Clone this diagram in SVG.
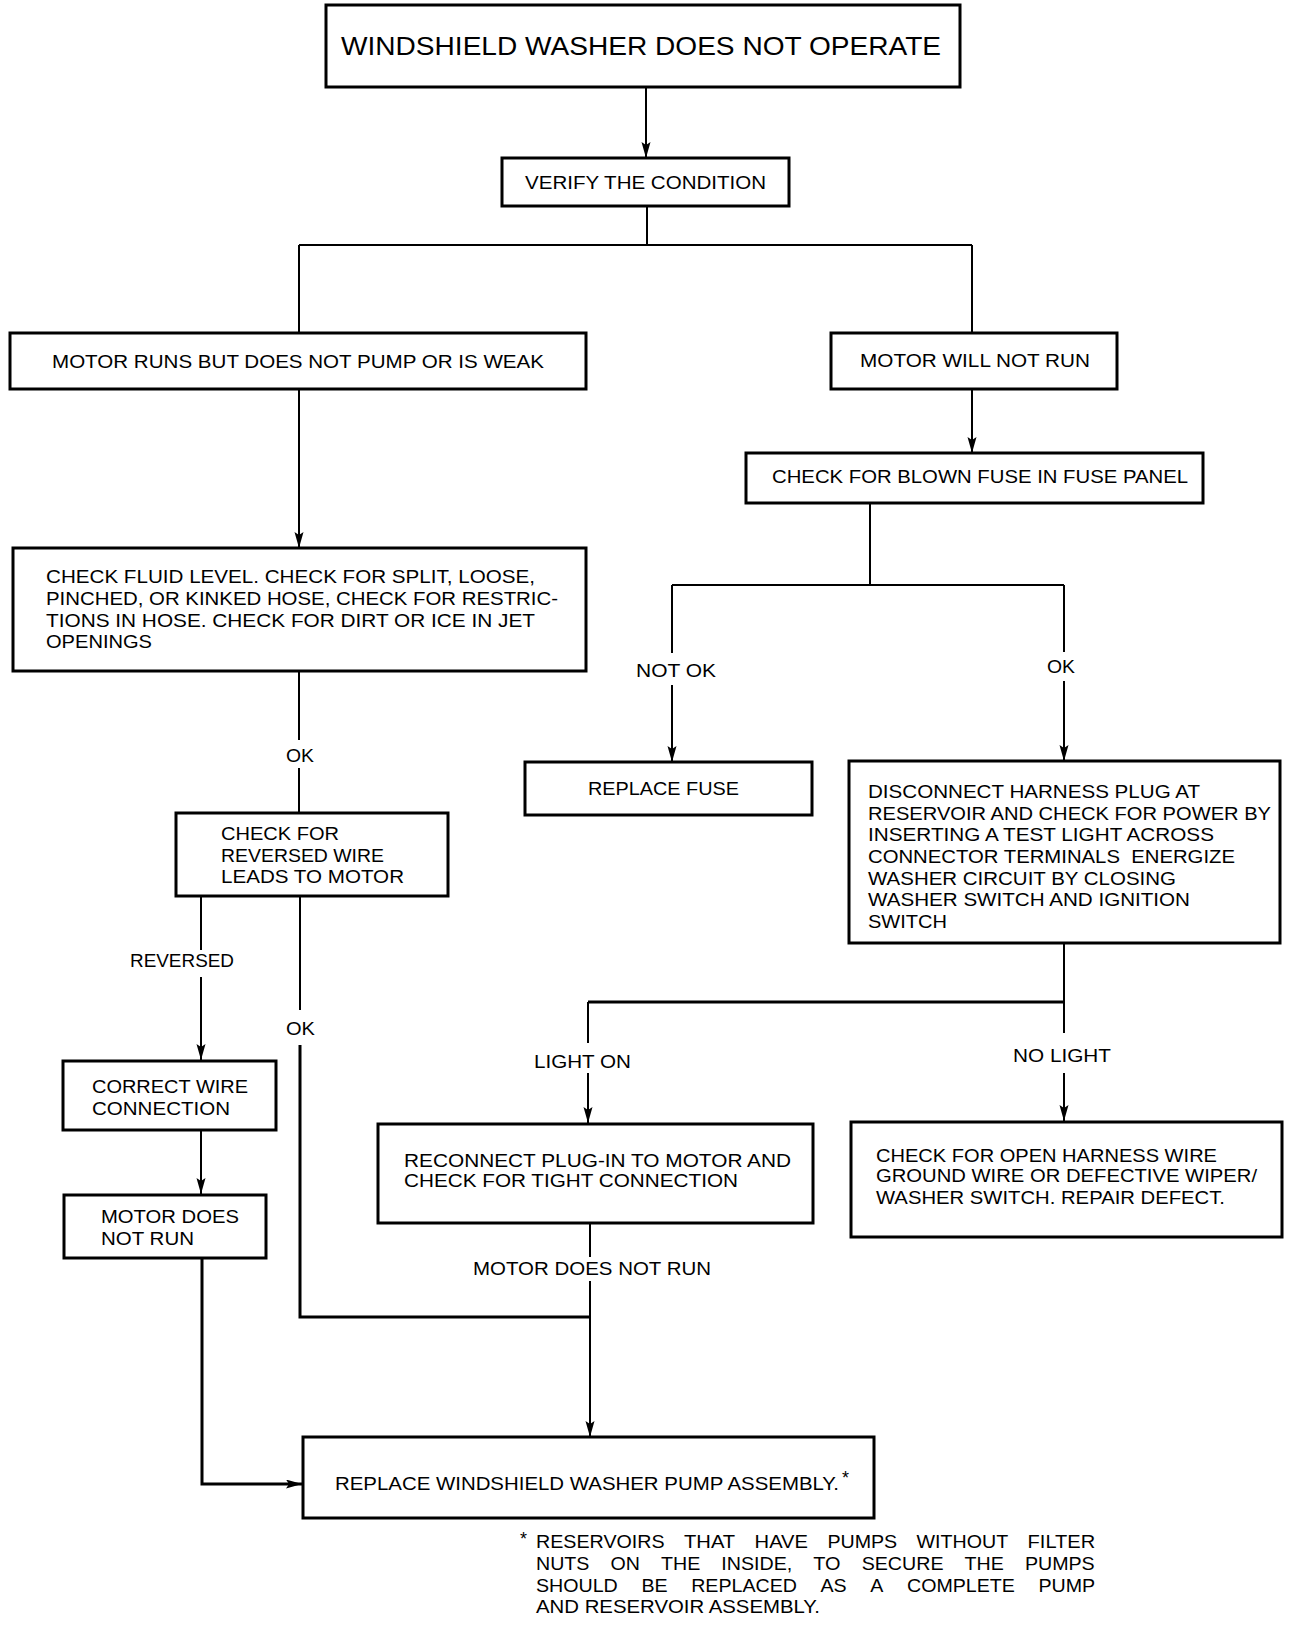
<svg xmlns="http://www.w3.org/2000/svg" width="1312" height="1632" viewBox="0 0 1312 1632">
<defs>
<style>
.box{fill:#fff;stroke:#000;stroke-width:3}
.t{font-family:"Liberation Sans",Arial,sans-serif;font-size:18px;fill:#000}
.big{font-size:25px}
.c{fill:none;stroke:#000;stroke-width:2}
.thick{stroke-width:3}
</style>
<marker id="ah" markerUnits="userSpaceOnUse" markerWidth="18" markerHeight="10" refX="16" refY="4.5" orient="auto">
<path d="M0,0 L16,4.5 L0,9 L3,4.5 z" fill="#000"/>
</marker>
</defs>
<rect width="1312" height="1632" fill="#fff"/>

<g id="connectors">
<path class="c" d="M646,87 V158" marker-end="url(#ah)"/>
<path class="c" d="M647,206 V245 M299,245 H972 M299,245 V333 M972,245 V333"/>
<path class="c" d="M299,389 V548" marker-end="url(#ah)"/>
<path class="c" d="M972,389 V453" marker-end="url(#ah)"/>
<path class="c" d="M870,503 V585 M672,585 H1064 M672,585 V653 M1064,585 V652"/>
<path class="c" d="M672,685 V762" marker-end="url(#ah)"/>
<path class="c" d="M1064,681 V761" marker-end="url(#ah)"/>
<path class="c" d="M299,671 V740 M299,768 V813"/>
<path class="c" d="M201,896 V950"/>
<path class="c" d="M201,977 V1060" marker-end="url(#ah)"/>
<path class="c" d="M300,896 V1010"/>
<path class="c thick" d="M300,1045 V1317 H590"/>
<path class="c" d="M1064,943 V1033"/>
<path class="c thick" d="M588,1002 H1064"/>
<path class="c" d="M588,1002 V1043"/>
<path class="c" d="M588,1073 V1123" marker-end="url(#ah)"/>
<path class="c" d="M1064,1073 V1121" marker-end="url(#ah)"/>
<path class="c" d="M201,1130 V1194" marker-end="url(#ah)"/>
<path class="c thick" d="M202,1258 V1484 H302" marker-end="url(#ah)"/>
<path class="c" d="M590,1223 V1257"/>
<path class="c" d="M590,1281 V1437" marker-end="url(#ah)"/>
<text class="t" x="286" y="762" textLength="28" lengthAdjust="spacingAndGlyphs">OK</text>
<text class="t" x="130" y="967" textLength="104" lengthAdjust="spacingAndGlyphs">REVERSED</text>
<text class="t" x="286" y="1035" textLength="29" lengthAdjust="spacingAndGlyphs">OK</text>
<text class="t" x="636" y="677" textLength="80" lengthAdjust="spacingAndGlyphs">NOT OK</text>
<text class="t" x="1047" y="673" textLength="28" lengthAdjust="spacingAndGlyphs">OK</text>
<text class="t" x="534" y="1068" textLength="97" lengthAdjust="spacingAndGlyphs">LIGHT ON</text>
<text class="t" x="1013" y="1062" textLength="98" lengthAdjust="spacingAndGlyphs">NO LIGHT</text>
<text class="t" x="473" y="1275" textLength="238" lengthAdjust="spacingAndGlyphs">MOTOR DOES NOT RUN</text>
</g>

<g id="n-title">
<rect class="box" x="326" y="5" width="634" height="82"/>
<text class="t big" x="341" y="55" textLength="600" lengthAdjust="spacingAndGlyphs">WINDSHIELD WASHER DOES NOT OPERATE</text>
</g>
<g id="n-verify">
<rect class="box" x="502" y="158" width="287" height="48"/>
<text class="t" x="525" y="189" textLength="241" lengthAdjust="spacingAndGlyphs">VERIFY THE CONDITION</text>
</g>
<g id="n-motor-runs">
<rect class="box" x="10" y="333" width="576" height="56"/>
<text class="t" x="52" y="368" textLength="492" lengthAdjust="spacingAndGlyphs">MOTOR RUNS BUT DOES NOT PUMP OR IS WEAK</text>
</g>
<g id="n-motor-will-not-run">
<rect class="box" x="831" y="333" width="286" height="56"/>
<text class="t" x="860" y="367" textLength="230" lengthAdjust="spacingAndGlyphs">MOTOR WILL NOT RUN</text>
</g>
<g id="n-fuse">
<rect class="box" x="746" y="453" width="457" height="50"/>
<text class="t" x="772" y="483" textLength="416" lengthAdjust="spacingAndGlyphs">CHECK FOR BLOWN FUSE IN FUSE PANEL</text>
</g>
<g id="n-fluid">
<rect class="box" x="13" y="548" width="573" height="123"/>
<text class="t" x="46" y="583" textLength="489" lengthAdjust="spacingAndGlyphs">CHECK FLUID LEVEL. CHECK FOR SPLIT, LOOSE,</text>
<text class="t" x="46" y="605" textLength="512" lengthAdjust="spacingAndGlyphs">PINCHED, OR KINKED HOSE, CHECK FOR RESTRIC-</text>
<text class="t" x="46" y="627" textLength="489" lengthAdjust="spacingAndGlyphs">TIONS IN HOSE. CHECK FOR DIRT OR ICE IN JET</text>
<text class="t" x="46" y="648" textLength="106" lengthAdjust="spacingAndGlyphs">OPENINGS</text>
</g>
<g id="n-replace-fuse">
<rect class="box" x="525" y="762" width="287" height="53"/>
<text class="t" x="588" y="795" textLength="151" lengthAdjust="spacingAndGlyphs">REPLACE FUSE</text>
</g>
<g id="n-disconnect">
<rect class="box" x="849" y="761" width="431" height="182"/>
<text class="t" x="868" y="798" textLength="332" lengthAdjust="spacingAndGlyphs">DISCONNECT HARNESS PLUG AT</text>
<text class="t" x="868" y="820" textLength="403" lengthAdjust="spacingAndGlyphs">RESERVOIR AND CHECK FOR POWER BY</text>
<text class="t" x="868" y="841" textLength="346" lengthAdjust="spacingAndGlyphs">INSERTING A TEST LIGHT ACROSS</text>
<text class="t" x="868" y="863" textLength="367" lengthAdjust="spacingAndGlyphs" xml:space="preserve">CONNECTOR TERMINALS  ENERGIZE</text>
<text class="t" x="868" y="885" textLength="308" lengthAdjust="spacingAndGlyphs">WASHER CIRCUIT BY CLOSING</text>
<text class="t" x="868" y="906" textLength="322" lengthAdjust="spacingAndGlyphs">WASHER SWITCH AND IGNITION</text>
<text class="t" x="868" y="928" textLength="79" lengthAdjust="spacingAndGlyphs">SWITCH</text>
</g>
<g id="n-reversed">
<rect class="box" x="176" y="813" width="272" height="83"/>
<text class="t" x="221" y="840" textLength="118" lengthAdjust="spacingAndGlyphs">CHECK FOR</text>
<text class="t" x="221" y="862" textLength="163" lengthAdjust="spacingAndGlyphs">REVERSED WIRE</text>
<text class="t" x="221" y="883" textLength="183" lengthAdjust="spacingAndGlyphs">LEADS TO MOTOR</text>
</g>
<g id="n-correct-wire">
<rect class="box" x="63" y="1061" width="213" height="69"/>
<text class="t" x="92" y="1093" textLength="156" lengthAdjust="spacingAndGlyphs">CORRECT WIRE</text>
<text class="t" x="92" y="1115" textLength="138" lengthAdjust="spacingAndGlyphs">CONNECTION</text>
</g>
<g id="n-motor-does-not-run">
<rect class="box" x="64" y="1195" width="202" height="63"/>
<text class="t" x="101" y="1223" textLength="138" lengthAdjust="spacingAndGlyphs">MOTOR DOES</text>
<text class="t" x="101" y="1245" textLength="93" lengthAdjust="spacingAndGlyphs">NOT RUN</text>
</g>
<g id="n-reconnect">
<rect class="box" x="378" y="1124" width="435" height="99"/>
<text class="t" x="404" y="1167" textLength="387" lengthAdjust="spacingAndGlyphs">RECONNECT PLUG-IN TO MOTOR AND</text>
<text class="t" x="404" y="1187" textLength="334" lengthAdjust="spacingAndGlyphs">CHECK FOR TIGHT CONNECTION</text>
</g>
<g id="n-open-harness">
<rect class="box" x="851" y="1122" width="431" height="115"/>
<text class="t" x="876" y="1162" textLength="341" lengthAdjust="spacingAndGlyphs">CHECK FOR OPEN HARNESS WIRE</text>
<text class="t" x="876" y="1182" textLength="381" lengthAdjust="spacingAndGlyphs">GROUND WIRE OR DEFECTIVE WIPER/</text>
<text class="t" x="876" y="1204" textLength="349" lengthAdjust="spacingAndGlyphs">WASHER SWITCH. REPAIR DEFECT.</text>
</g>
<g id="n-replace-pump">
<rect class="box" x="303" y="1437" width="571" height="81"/>
<text class="t" x="335" y="1490" textLength="504" lengthAdjust="spacingAndGlyphs">REPLACE WINDSHIELD WASHER PUMP ASSEMBLY.</text>
<text class="t" x="842" y="1484" font-size="12">*</text>
</g>
<g id="footnote">
<text class="t" x="520" y="1545" font-size="12">*</text>
<text class="t" x="536" y="1548" textLength="128.6" lengthAdjust="spacingAndGlyphs">RESERVOIRS</text>
<text class="t" x="684" y="1548" textLength="51.2" lengthAdjust="spacingAndGlyphs">THAT</text>
<text class="t" x="754.6" y="1548" textLength="53.4" lengthAdjust="spacingAndGlyphs">HAVE</text>
<text class="t" x="827.4" y="1548" textLength="69.8" lengthAdjust="spacingAndGlyphs">PUMPS</text>
<text class="t" x="916.6" y="1548" textLength="91.6" lengthAdjust="spacingAndGlyphs">WITHOUT</text>
<text class="t" x="1027.6" y="1548" textLength="67.6" lengthAdjust="spacingAndGlyphs">FILTER</text>
<text class="t" x="536" y="1570" textLength="53.4" lengthAdjust="spacingAndGlyphs">NUTS</text>
<text class="t" x="610.5" y="1570" textLength="29.4" lengthAdjust="spacingAndGlyphs">ON</text>
<text class="t" x="661" y="1570" textLength="39.2" lengthAdjust="spacingAndGlyphs">THE</text>
<text class="t" x="721.3" y="1570" textLength="70.9" lengthAdjust="spacingAndGlyphs">INSIDE,</text>
<text class="t" x="813.3" y="1570" textLength="27.3" lengthAdjust="spacingAndGlyphs">TO</text>
<text class="t" x="861.7" y="1570" textLength="81.8" lengthAdjust="spacingAndGlyphs">SECURE</text>
<text class="t" x="964.6" y="1570" textLength="39.2" lengthAdjust="spacingAndGlyphs">THE</text>
<text class="t" x="1024.9" y="1570" textLength="69.8" lengthAdjust="spacingAndGlyphs">PUMPS</text>
<text class="t" x="536" y="1592" textLength="81.8" lengthAdjust="spacingAndGlyphs">SHOULD</text>
<text class="t" x="641.4" y="1592" textLength="26.2" lengthAdjust="spacingAndGlyphs">BE</text>
<text class="t" x="691.2" y="1592" textLength="105.7" lengthAdjust="spacingAndGlyphs">REPLACED</text>
<text class="t" x="820.5" y="1592" textLength="26.2" lengthAdjust="spacingAndGlyphs">AS</text>
<text class="t" x="870.3" y="1592" textLength="13.1" lengthAdjust="spacingAndGlyphs">A</text>
<text class="t" x="907" y="1592" textLength="107.9" lengthAdjust="spacingAndGlyphs">COMPLETE</text>
<text class="t" x="1038.5" y="1592" textLength="56.7" lengthAdjust="spacingAndGlyphs">PUMP</text>
<text class="t" x="536" y="1613" textLength="284" lengthAdjust="spacingAndGlyphs">AND RESERVOIR ASSEMBLY.</text>
</g>
</svg>
